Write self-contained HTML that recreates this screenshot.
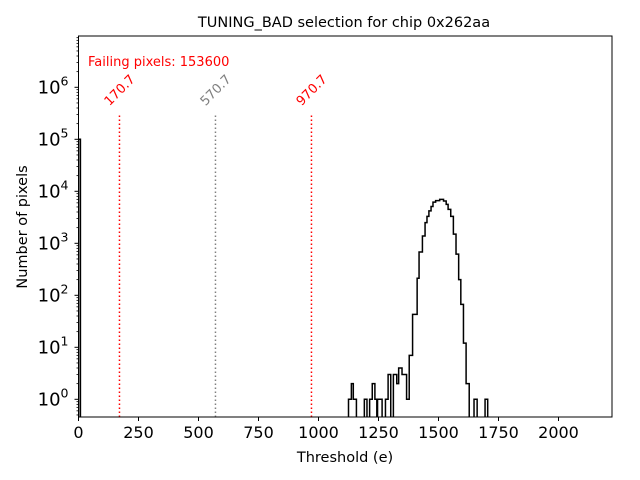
<!DOCTYPE html>
<html><head><meta charset="utf-8"><style>
html,body{margin:0;padding:0;background:#fff;}
svg{display:block;font-family:"DejaVu Sans","Liberation Sans",sans-serif;}
</style></head><body>
<svg id="chart" width="640" height="480" viewBox="0 0 640 480" xmlns="http://www.w3.org/2000/svg">
<rect width="640" height="480" fill="#fff"/>
<text x="344" y="27" font-size="14.5" text-anchor="middle">TUNING_BAD selection for chip 0x262aa</text>
<text x="345" y="462" font-size="14.5" text-anchor="middle">Threshold (e)</text>
<text transform="translate(27,227) rotate(-90)" font-size="14.5" text-anchor="middle">Number of pixels</text>
<g id="plot"></g>
</svg>
<script>
const binEdges=[0,8, 1125,1137,1145,1158,1191,1202,1213,1224,1235,1243,1246,1265,1279,1290,1301,1312,1326,1334,1348,1367,1378,1392,1411,1419,1433,1444,1452,1460,1469,1477,1488,1505,1521,1532,1540,1551,1562,1573,1584,1593,1604,1615,1628,1648,1661,1694,1705];
const binCounts=[100000,0, 1,2,1,0,1,0,1,2,1,0,1,0,1,3,0,3,2,4,3,1,7,43,213,680,1380,2500,3300,4200,5100,6200,6600,7000,6500,5600,4500,3300,1500,620,200,67,12,2,0,1,0,1];
const cutValues=[170.7,570.7,970.7];
const cutColors=["red","gray","red"];
const xTicks=[0,250,500,750,1000,1250,1500,1750,2000];
const yDecades=[0,1,2,3,4,5,6];
const failingText="Failing pixels: 153600";

const NS="http://www.w3.org/2000/svg";
const L=78.5,R=612,T=36,B=417;
const X=v=>L+v*0.24;
const Y=c=>399.3-52*Math.log10(c);
const g=document.getElementById('plot');
function mk(tag,attrs,parent){const e=document.createElementNS(NS,tag);for(const k in attrs)e.setAttribute(k,attrs[k]);(parent||g).appendChild(e);return e;}

const clip=mk('clipPath',{id:'pc'});mk('rect',{x:L,y:T,width:R-L,height:B-T},clip);

// histogram step path
let d='';
for(let i=0;i<binCounts.length;i++){
  const x0=X(binEdges[i]),x1=X(binEdges[i+1]);
  const y=binCounts[i]>0?Y(binCounts[i]):B+5;
  d+=(i===0?'M'+x0+','+(B+5):'')+'L'+x0+','+y+'L'+x1+','+y;
}
d+='L'+X(binEdges[binEdges.length-1])+','+(B+5);
const hp=mk('path',{d:d,fill:'none',stroke:'#000','stroke-width':1.5,'clip-path':'url(#pc)'});



// cut lines
cutValues.forEach((v,i)=>{
  const ln=mk('line',{x1:X(v),x2:X(v),y1:B,y2:Y(316000),stroke:cutColors[i],'stroke-width':1.5,'stroke-dasharray':'1.5,2.5'});
  
  
  const t=mk('text',{x:X(v)-10,y:Y(316000)-7,'font-size':13,fill:cutColors[i],transform:'rotate(-45 '+(X(v)-10)+' '+(Y(316000)-7)+')'});
  t.textContent=v.toFixed(1);
  
  
});

const ft=mk('text',{x:88,y:66,'font-size':13,fill:'red'});
ft.textContent=failingText;



// axes frame
const fr=mk('rect',{x:L,y:T,width:R-L,height:B-T,fill:'none',stroke:'#000','stroke-width':1});



// x ticks
xTicks.forEach(v=>{
  mk('line',{x1:X(v),x2:X(v),y1:B,y2:B+4,stroke:'#000'});
  const t=mk('text',{x:X(v),y:B+21,'font-size':16,'text-anchor':'middle'});
  t.textContent=v;
  
  
});
// y ticks
yDecades.forEach(p=>{
  const y=Y(Math.pow(10,p));
  mk('line',{x1:L-4,x2:L,y1:y,y2:y,stroke:'#000'});
  const t=mk('text',{x:L-10,y:y+6,'font-size':18,'text-anchor':'end'});
  t.innerHTML='10<tspan dy="-8" font-size="12.5">'+p+'</tspan>';
  
  
});
for(let p=-1;p<=6;p++){for(let m=2;m<=9;m++){const y=Y(m*Math.pow(10,p));if(y<T||y>B)continue;mk('line',{x1:L-2,x2:L,y1:y,y2:y,stroke:'#000','stroke-width':0.8});}}
</script>
</body></html>
